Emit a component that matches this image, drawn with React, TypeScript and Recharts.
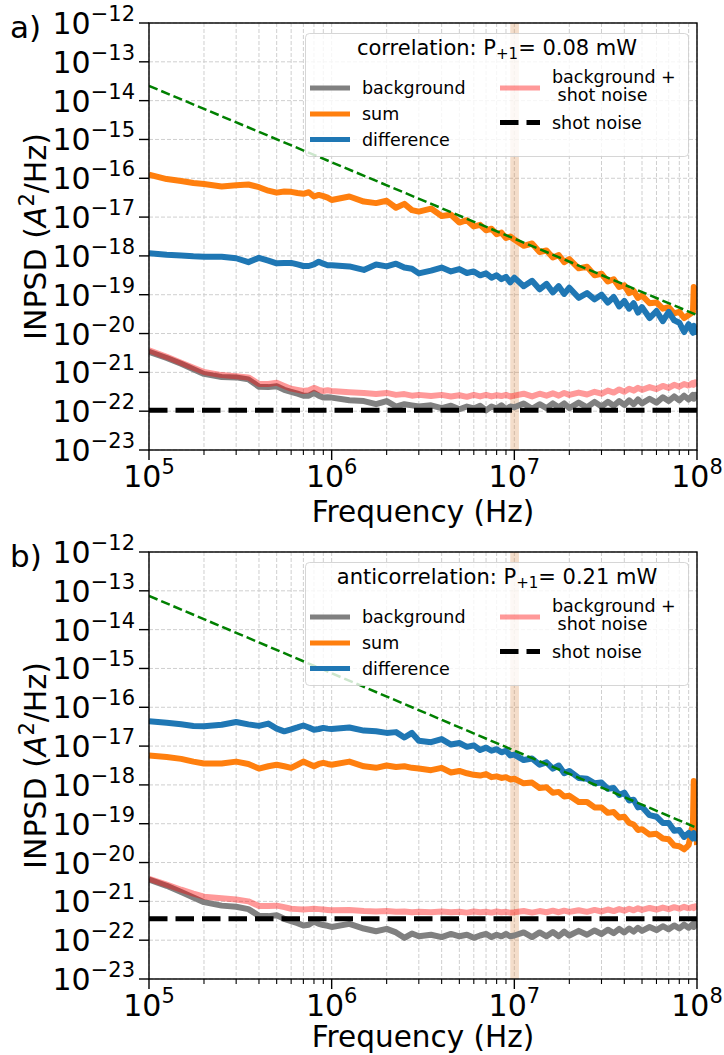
import {
  CartesianGrid,
  Line,
  LineChart,
  ReferenceArea,
  XAxis,
  YAxis,
} from "recharts";

const FONT = "DejaVu Sans, sans-serif";

// frequency grid (Hz), shared by both panels
const FREQ = [
  1e5, 1.25e5, 1.5e5, 1.75e5, 2e5, 2.5e5, 3e5, 3.5e5, 4e5, 4.5e5,
  5e5, 5.5e5, 6e5, 6.5e5, 7e5, 7.5e5, 8e5, 8.5e5, 9e5, 9.5e5,
  1e6, 1.25e6, 1.5e6, 1.75e6, 2e6, 2.25e6, 2.5e6, 2.75e6, 3e6, 3.5e6,
  4e6, 4.5e6, 5e6, 5.5e6, 6e6, 6.5e6, 7e6, 7.5e6, 8e6, 8.5e6,
  9e6, 9.5e6,
  1e7, 1.125e7, 1.25e7, 1.375e7, 1.5e7, 1.625e7, 1.75e7, 1.875e7, 2e7, 2.25e7, 2.5e7,
  2.75e7, 3e7, 3.25e7, 3.5e7, 3.75e7, 4e7, 4.25e7, 4.5e7, 4.75e7, 5e7, 5.5e7,
  6e7, 6.5e7, 7e7, 7.5e7, 8e7, 8.5e7, 9e7, 9.5e7, 9.6e7, 9.8e7, 1e8,
];

// INPSD, stored as log10(A^2/Hz)
// panel a) correlation
const A_SUM = [
  -15.91, -16.02, -16.07, -16.12, -16.15, -16.21, -16.18, -16.16, -16.23, -16.32,
  -16.37, -16.34, -16.35, -16.38, -16.4, -16.36, -16.47, -16.43, -16.46, -16.5,
  -16.56, -16.47, -16.6, -16.64, -16.58, -16.76, -16.66, -16.82, -16.86, -16.78,
  -16.97, -16.94, -17.14, -17.08, -17.24, -17.2, -17.34, -17.3, -17.44, -17.4,
  -17.54, -17.5,
  -17.58, -17.74, -17.68, -17.9, -17.86, -18.04, -17.98, -18.16, -18.08, -18.32, -18.28,
  -18.5, -18.46, -18.66, -18.6, -18.8, -18.76, -18.96, -18.9, -19.08, -19.02, -19.22,
  -19.2, -19.36, -19.32, -19.48, -19.44, -19.6, -19.52, -19.45, -18.8, -18.85, -19.4,
];
const A_DIFF = [
  -17.93, -17.97, -17.99, -18.01, -18.02, -18.02, -18.06, -18.16, -18.05, -18.12,
  -18.19, -18.18, -18.18, -18.22, -18.26, -18.26, -18.22, -18.15, -18.2, -18.24,
  -18.24, -18.27, -18.36, -18.22, -18.27, -18.2, -18.3, -18.33, -18.45, -18.38,
  -18.3, -18.4, -18.34, -18.44, -18.4, -18.5, -18.45, -18.56, -18.5, -18.6,
  -18.54, -18.68,
  -18.56, -18.78, -18.64, -18.86, -18.72, -18.94, -18.78, -18.98, -18.82, -19.08, -18.96,
  -19.12, -19.0, -19.2, -19.06, -19.3, -19.16, -19.36, -19.22, -19.46, -19.32, -19.6,
  -19.42, -19.68, -19.44, -19.66, -19.72, -19.96, -19.76, -19.98, -19.8, -19.96, -19.84,
];
const A_BG = [
  -20.47, -20.63, -20.78, -20.92, -21.04, -21.12, -21.13, -21.18, -21.37, -21.38,
  -21.36, -21.45, -21.5, -21.55, -21.6, -21.6, -21.53, -21.6, -21.65, -21.64,
  -21.65, -21.72, -21.74, -21.82, -21.74, -21.88, -21.82, -21.85, -21.88, -21.85,
  -21.92, -21.86, -21.95, -21.88, -21.93, -21.86, -21.98, -21.88, -21.93, -21.85,
  -21.95, -21.88,
  -21.9, -21.8, -21.94, -21.82, -21.92, -21.8, -21.9, -21.8, -21.92, -21.78, -21.9,
  -21.76, -21.88, -21.76, -21.86, -21.74, -21.84, -21.72, -21.82, -21.7, -21.8, -21.68,
  -21.78, -21.64, -21.74, -21.62, -21.72, -21.6, -21.7, -21.58, -21.68, -21.58, -21.64,
];
const A_BGSN = [
  -20.43, -20.6, -20.75, -20.88, -20.99, -21.07, -21.1, -21.13, -21.3, -21.3,
  -21.27, -21.35, -21.42, -21.45, -21.48, -21.46, -21.4, -21.45, -21.48, -21.46,
  -21.48, -21.51, -21.53, -21.56, -21.53, -21.58, -21.56, -21.6, -21.58, -21.61,
  -21.58, -21.62, -21.59, -21.63, -21.58, -21.62, -21.58, -21.62, -21.59, -21.61,
  -21.58, -21.62,
  -21.6, -21.55, -21.62, -21.55, -21.6, -21.54, -21.6, -21.53, -21.58, -21.52, -21.57,
  -21.5, -21.55, -21.47, -21.52, -21.44, -21.5, -21.42, -21.47, -21.4, -21.45, -21.38,
  -21.43, -21.35, -21.4, -21.32, -21.37, -21.3, -21.34, -21.27, -21.32, -21.26, -21.3,
];

// panel b) anticorrelation
const B_SUM = [
  -17.24, -17.28, -17.33, -17.4, -17.45, -17.45, -17.4, -17.46, -17.58, -17.52,
  -17.48, -17.52, -17.56, -17.48, -17.4, -17.46, -17.52, -17.46, -17.43, -17.46,
  -17.48, -17.4, -17.52, -17.56, -17.5, -17.54, -17.52, -17.56, -17.58, -17.62,
  -17.56, -17.68, -17.64, -17.7, -17.74, -17.76, -17.72, -17.8, -17.78, -17.82,
  -17.8, -17.86,
  -17.84, -17.96, -17.94, -18.08, -18.06, -18.2, -18.18, -18.3, -18.28, -18.44, -18.44,
  -18.58, -18.58, -18.72, -18.7, -18.84, -18.82, -18.98, -19.02, -19.16, -19.14, -19.28,
  -19.26, -19.38, -19.4, -19.56, -19.58, -19.66, -19.55, -19.0, -17.9, -18.1, -19.55,
];
const B_DIFF = [
  -16.36, -16.4, -16.44, -16.48, -16.49, -16.45, -16.38, -16.44, -16.48, -16.42,
  -16.55, -16.62, -16.57, -16.52, -16.47, -16.52, -16.58, -16.56, -16.53, -16.55,
  -16.56, -16.52, -16.6, -16.62, -16.66, -16.64, -16.78, -16.66, -16.86, -16.9,
  -16.82, -16.96, -16.92, -17.02, -16.98, -17.1, -17.04, -17.12, -17.08, -17.16,
  -17.12, -17.24,
  -17.22, -17.36, -17.32, -17.48, -17.42, -17.58, -17.5, -17.7, -17.64, -17.82, -17.84,
  -17.96, -17.94, -18.1, -18.08, -18.26, -18.2, -18.4, -18.38, -18.58, -18.56, -18.78,
  -18.82, -18.98, -18.98, -19.18, -19.16, -19.34, -19.24, -19.38, -19.24, -19.38, -19.3,
];
const B_BG = [
  -20.44, -20.6, -20.76, -20.9, -21.02, -21.11, -21.14, -21.2, -21.37, -21.38,
  -21.36, -21.45, -21.51, -21.56, -21.62, -21.6, -21.52, -21.58, -21.61, -21.63,
  -21.66, -21.58, -21.7, -21.77, -21.71, -21.8, -21.94, -21.83, -21.9, -21.86,
  -21.92, -21.84, -21.9, -21.86, -21.94, -21.88, -21.84, -21.92, -21.86, -21.9,
  -21.84, -21.9,
  -21.88, -21.8, -21.92, -21.8, -21.9, -21.79, -21.9, -21.78, -21.88, -21.76, -21.86,
  -21.75, -21.84, -21.73, -21.82, -21.71, -21.8, -21.7, -21.78, -21.68, -21.76, -21.66,
  -21.74, -21.64, -21.72, -21.62, -21.7, -21.6, -21.68, -21.58, -21.66, -21.56, -21.62,
];
const B_BGSN = [
  -20.42, -20.57, -20.7, -20.8, -20.88, -20.92, -20.95, -21.0, -21.12, -21.12,
  -21.11, -21.15, -21.19, -21.2, -21.21, -21.2, -21.19, -21.2, -21.21, -21.22,
  -21.23, -21.22, -21.25, -21.26, -21.25, -21.27, -21.26, -21.28, -21.27, -21.28,
  -21.26, -21.28, -21.27, -21.29, -21.26, -21.28, -21.27, -21.29, -21.26, -21.28,
  -21.27, -21.29,
  -21.28, -21.25, -21.29, -21.25, -21.28, -21.24, -21.28, -21.24, -21.27, -21.23, -21.27,
  -21.22, -21.26, -21.21, -21.25, -21.2, -21.24, -21.19, -21.23, -21.18, -21.22, -21.17,
  -21.21, -21.16, -21.2, -21.15, -21.19, -21.14, -21.18, -21.14, -21.17, -21.13, -21.16,
];

// 1/f^2 guide (green dashed): endpoints [f, value]
const FIT_A = [[1e5, 2.4e-14], [1e8, 3.0e-20]];
const FIT_B = [[1e5, 7.4e-14], [1e8, 7.8e-20]];
// shot noise level
const SHOT_A = 1.05e-22;
const SHOT_B = 3.55e-22;
// shaded band around 10 MHz
const BAND = [9.5e6, 1.06e7];

const X_TICKS = [
  1e5, 2e5, 3e5, 4e5, 5e5, 6e5, 7e5, 8e5, 9e5,
  1e6, 2e6, 3e6, 4e6, 5e6, 6e6, 7e6, 8e6, 9e6,
  1e7, 2e7, 3e7, 4e7, 5e7, 6e7, 7e7, 8e7, 9e7, 1e8,
];
const Y_TICKS = [
  1e-23, 1e-22, 1e-21, 1e-20, 1e-19, 1e-18, 1e-17, 1e-16, 1e-15, 1e-14, 1e-13, 1e-12,
];

const PANELS = ["a)", "b)"];
const TITLES = ["correlation", "anticorrelation"];
const POWERS = ["0.08", "0.21"];
const LEGEND = ["background", "sum", "difference", "background +", " shot noise", "shot noise"];

const COLORS = {
  bg: "#808080",
  sum: "#ff7f0e",
  diff: "#1f77b4",
  bgsn: "#ff0000",
  fit: "#008000",
};

const toRows = (bg: number[], sum: number[], diff: number[], bgsn: number[]) =>
  FREQ.map((f, i) => ({
    f,
    bg: 10 ** bg[i],
    sum: 10 ** sum[i],
    diff: 10 ** diff[i],
    bgsn: 10 ** bgsn[i],
  }));

const PLOT = { left: 149, top: 23, width: 548, height: 427 };
const LW = 6;

function XTick(props: any) {
  const { x, y, payload } = props;
  const lg = Math.log10(payload.value);
  const e = Math.round(lg);
  const major = Math.abs(lg - e) < 1e-6;
  return (
    <g>
      <line x1={x} x2={x} y1={y} y2={y + (major ? 10 : 5)} stroke="#000" strokeWidth={major ? 1.4 : 1.1} />
      {major && (
        <text x={x} y={y + 37} textAnchor="middle" fontFamily={FONT} fill="#000">
          <tspan fontSize={30}>10</tspan>
          <tspan fontSize={21} dy={-13}>{e}</tspan>
        </text>
      )}
    </g>
  );
}

function YTick(props: any) {
  const { x, y, payload } = props;
  const e = Math.round(Math.log10(payload.value));
  return (
    <g>
      <line x1={x - 10} x2={x} y1={y} y2={y} stroke="#000" strokeWidth={1.4} />
      <text x={x - 14} y={y + 11} textAnchor="end" fontFamily={FONT} fill="#000">
        <tspan fontSize={30}>10</tspan>
        <tspan fontSize={21} dy={-13}>{"\u2212" + Math.abs(e)}</tspan>
      </text>
    </g>
  );
}

function Overlay({ idx, xLabelY }: { idx: number; xLabelY: number }) {
  const rowY = [88, 114, 139.5];
  const colors = [COLORS.bg, COLORS.sum, COLORS.diff];
  return (
    <g fontFamily={FONT} fill="#000">
      <rect
        x={PLOT.left}
        y={PLOT.top}
        width={PLOT.width}
        height={PLOT.height}
        fill="none"
        stroke="#000"
        strokeWidth={1.4}
      />
      <text x={10} y={38} fontSize={31}>{PANELS[idx]}</text>
      <text x={423} y={xLabelY} textAnchor="middle" fontSize={29.5}>Frequency (Hz)</text>
      <text transform="translate(46, 236.5) rotate(-90)" textAnchor="middle" fontSize={30}>
        INPSD (<tspan fontStyle="italic">A</tspan>
        <tspan fontSize={21} dy={-12}>2</tspan>
        <tspan dy={12}>/Hz)</tspan>
      </text>

      <rect
        x={305.5}
        y={33.5}
        width={383}
        height={123}
        rx={4}
        fill="#fff"
        fillOpacity={0.8}
        stroke="#cccccc"
        strokeOpacity={0.8}
      />
      <text x={497} y={55} textAnchor="middle" fontSize={21}>
        {TITLES[idx]}: P<tspan fontSize={15} dy={4}>+1</tspan>
        <tspan dy={-4}>= {POWERS[idx]} mW</tspan>
      </text>
      {rowY.map((ry, i) => (
        <g key={i}>
          <line x1={310} x2={350} y1={ry} y2={ry} stroke={colors[i]} strokeWidth={5} />
          <text x={362} y={ry + 6} fontSize={17.5}>{LEGEND[i]}</text>
        </g>
      ))}
      <line x1={500} x2={540} y1={88} y2={88} stroke={COLORS.bgsn} strokeOpacity={0.4} strokeWidth={5} />
      <text x={552} y={82.5} fontSize={17.5}>{LEGEND[3]}</text>
      <text x={552} y={101} fontSize={17.5} style={{ whiteSpace: "pre" }}>{LEGEND[4]}</text>
      <line x1={500} x2={540} y1={122.5} y2={122.5} stroke="#000" strokeWidth={5} strokeDasharray="18.5 8" />
      <text x={552} y={128.5} fontSize={17.5}>{LEGEND[5]}</text>
    </g>
  );
}

function Panel({ idx, height, xLabelY }: { idx: number; height: number; xLabelY: number }) {
  const rows =
    idx === 0 ? toRows(A_BG, A_SUM, A_DIFF, A_BGSN) : toRows(B_BG, B_SUM, B_DIFF, B_BGSN);
  const fit = (idx === 0 ? FIT_A : FIT_B).map(([f, v]) => ({ f, v }));
  const shotLevel = idx === 0 ? SHOT_A : SHOT_B;
  const shot = [{ f: FREQ[0], v: shotLevel }, { f: FREQ[FREQ.length - 1], v: shotLevel }];
  const common = { dot: false, activeDot: false, isAnimationActive: false, type: "linear" as const };

  return (
    <div style={{ position: "relative", width: 724, height }}>
      <LineChart
        width={724}
        height={height}
        data={rows}
        margin={{ top: PLOT.top, right: 724 - PLOT.left - PLOT.width, bottom: 0, left: 0 }}
      >
        <CartesianGrid stroke="#cfcfcf" strokeDasharray="4 2" strokeWidth={1} />
        <XAxis
          dataKey="f"
          type="number"
          scale="log"
          domain={[1e5, 1e8]}
          ticks={X_TICKS}
          interval={0}
          allowDataOverflow
          axisLine={false}
          tickLine={false}
          tickSize={0}
          tickMargin={0}
          height={height - PLOT.top - PLOT.height}
          tick={<XTick />}
        />
        <YAxis
          type="number"
          scale="log"
          domain={[1e-23, 1e-12]}
          ticks={Y_TICKS}
          interval={0}
          allowDataOverflow
          axisLine={false}
          tickLine={false}
          tickSize={0}
          tickMargin={0}
          width={PLOT.left}
          tick={<YTick />}
        />
        <Line {...common} dataKey="bg" stroke={COLORS.bg} strokeWidth={LW} strokeLinejoin="round" />
        <Line {...common} dataKey="sum" stroke={COLORS.sum} strokeWidth={LW} strokeLinejoin="round" />
        <Line {...common} dataKey="diff" stroke={COLORS.diff} strokeWidth={LW} strokeLinejoin="round" />
        <Line
          {...common}
          dataKey="bgsn"
          stroke={COLORS.bgsn}
          strokeOpacity={0.4}
          strokeWidth={LW}
          strokeLinejoin="round"
        />
        <Line {...common} data={shot} dataKey="v" stroke="#000" strokeWidth={5} strokeDasharray="18.5 8" />
        <Line {...common} data={fit} dataKey="v" stroke={COLORS.fit} strokeWidth={2.5} strokeDasharray="9.25 4" />
        <ReferenceArea
          x1={BAND[0]}
          x2={BAND[1]}
          fill="#d9843f"
          fillOpacity={0.28}
          stroke="none"
          ifOverflow="visible"
        />
      </LineChart>
      <svg
        width={724}
        height={height}
        style={{ position: "absolute", left: 0, top: 0, pointerEvents: "none" }}
      >
        <Overlay idx={idx} xLabelY={xLabelY} />
      </svg>
    </div>
  );
}

export default function App() {
  return (
    <div
      style={{
        position: "absolute",
        left: 0,
        top: 0,
        width: 724,
        height: 1055,
        background: "#fff",
        fontFamily: FONT,
      }}
    >
      <Panel idx={0} height={529} xLabelY={522} />
      <Panel idx={1} height={526} xLabelY={518} />
    </div>
  );
}
